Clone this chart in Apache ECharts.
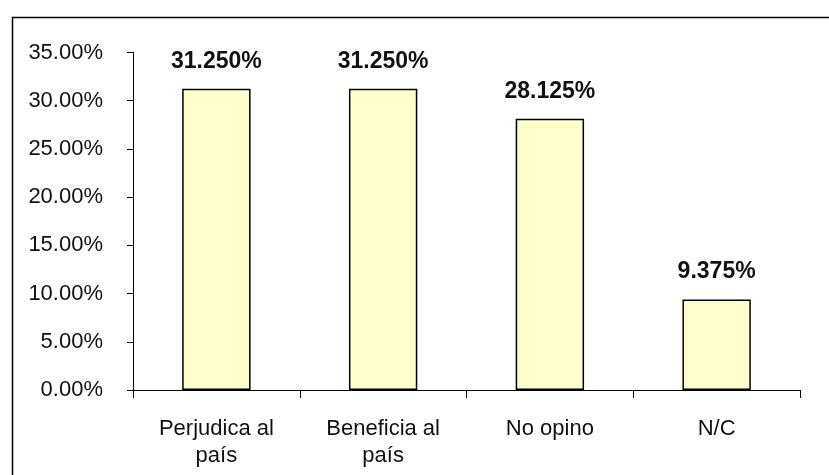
<!DOCTYPE html>
<html>
<head>
<meta charset="utf-8">
<script src="https://cdn.jsdelivr.net/npm/echarts@6/dist/echarts.min.js"></script>
<style>
  html, body { margin: 0; padding: 0; background: #fff; }
  #chart { width: 829px; height: 475px; }
</style>
</head>
<body>
<div id="chart"></div>
<script>
// categorias y valores (%)
const categories = ["Perjudica al\npaís", "Beneficia al\npaís", "No opino", "N/C"];
const values = [31.25, 31.25, 28.125, 9.375];

const chart = echarts.init(document.getElementById("chart"));

const option = {
  backgroundColor: "#ffffff",
  animation: false,
  textStyle: { fontFamily: "Liberation Sans, Arial, sans-serif" },
  // marco exterior del gráfico
  graphic: [
    {
      type: "rect",
      left: 10,
      top: 15,
      shape: { width: 840, height: 480 },
      style: { fill: "none", stroke: "#000", lineWidth: 1.5 },
      silent: true
    }
  ],
  grid: { left: 133, right: 29, top: 52.5, bottom: 85 },
  xAxis: {
    type: "category",
    data: categories,
    axisLine: { lineStyle: { color: "#000", width: 1 } },
    axisTick: { show: true, length: 8, lineStyle: { color: "#000" } },
    axisLabel: {
      color: "#111",
      fontSize: 22,
      lineHeight: 27,
      margin: 25,
      fontFamily: "Liberation Sans, Arial, sans-serif"
    }
  },
  yAxis: {
    type: "value",
    min: 0,
    max: 35,
    interval: 5,
    axisLine: { show: true, lineStyle: { color: "#000", width: 1 } },
    axisTick: { show: true, length: 6, lineStyle: { color: "#000" } },
    splitLine: { show: false },
    axisLabel: {
      color: "#111",
      fontSize: 22,
      margin: 30,
      formatter: v => v.toFixed(2) + "%",
      fontFamily: "Liberation Sans, Arial, sans-serif"
    }
  },
  series: [
    {
      type: "bar",
      data: values,
      barWidth: "41%",
      itemStyle: { color: "#FFFFCC", borderColor: "#000", borderWidth: 1.5 },
      label: {
        show: true,
        position: "top",
        distance: 16,
        color: "#111",
        fontSize: 23,
        fontWeight: "bold",
        fontFamily: "Liberation Sans, Arial, sans-serif",
        formatter: p => p.value.toFixed(3) + "%"
      }
    }
  ]
};

chart.setOption(option);
</script>
</body>
</html>
